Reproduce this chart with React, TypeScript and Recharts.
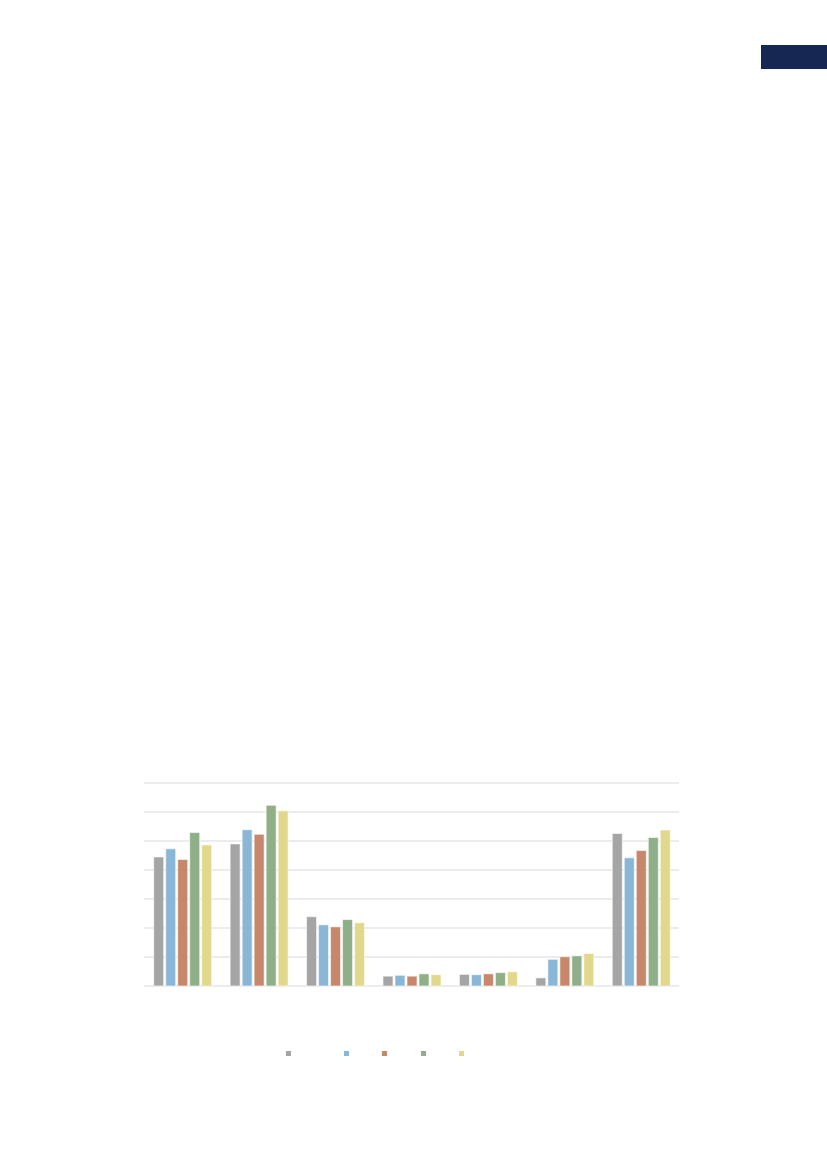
import React from 'react';
import { BarChart, Bar, XAxis, YAxis, CartesianGrid } from 'recharts';

const categories = ['1', '2', '3', '4', '5', '6', '7'];
const seriesNames = ['S1', 'S2', 'S3', 'S4', 'S5'];
const s1 = [44.5, 49.0, 23.9, 3.4, 4.0, 2.8, 52.6];
const s2 = [47.3, 53.9, 21.1, 3.7, 3.9, 9.2, 44.2];
const s3 = [43.6, 52.3, 20.4, 3.4, 4.2, 10.1, 46.7];
const s4 = [52.9, 62.3, 22.9, 4.2, 4.6, 10.4, 51.2];
const s5 = [48.6, 60.4, 21.8, 3.9, 4.9, 11.2, 53.8];
const yTicks = [0, 10, 20, 30, 40, 50, 60, 70];

const colors = ['#a5a5a5', '#8bb7d7', '#c6876b', '#8eaf87', '#e2d88c'];
const legendLeft = [286, 344, 382, 421, 459];

const data = categories.map((c, i) => ({
  cat: c,
  S1: s1[i],
  S2: s2[i],
  S3: s3[i],
  S4: s4[i],
  S5: s5[i],
}));

export default function App() {
  return (
    <div style={{ position: 'absolute', left: 0, top: 0, width: 827, height: 1169, background: '#fff' }}>
      <div style={{ position: 'absolute', left: 761, top: 45, width: 66, height: 24, background: '#172753' }} />
      <div style={{ position: 'absolute', left: 0, top: 0 }}>
        <BarChart
          width={827}
          height={1169}
          data={data}
          margin={{ top: 783, left: 144, right: 148, bottom: 183 }}
          barCategoryGap="12.7%"
          barGap={2}
        >
          <CartesianGrid vertical={false} stroke="#d9d9d9" strokeWidth={1} />
          <XAxis dataKey="cat" hide />
          <YAxis hide domain={[0, 70]} ticks={yTicks} interval={0} />
          {seriesNames.map((s, i) => (
            <Bar key={s} dataKey={s} fill={colors[i]} stroke="#ffffff" strokeWidth={0.6} isAnimationActive={false} />
          ))}
        </BarChart>
      </div>
      {seriesNames.map((s, i) => (
        <div
          key={s}
          style={{ position: 'absolute', left: legendLeft[i], top: 1051, width: 5, height: 5, background: colors[i] }}
        />
      ))}
    </div>
  );
}
